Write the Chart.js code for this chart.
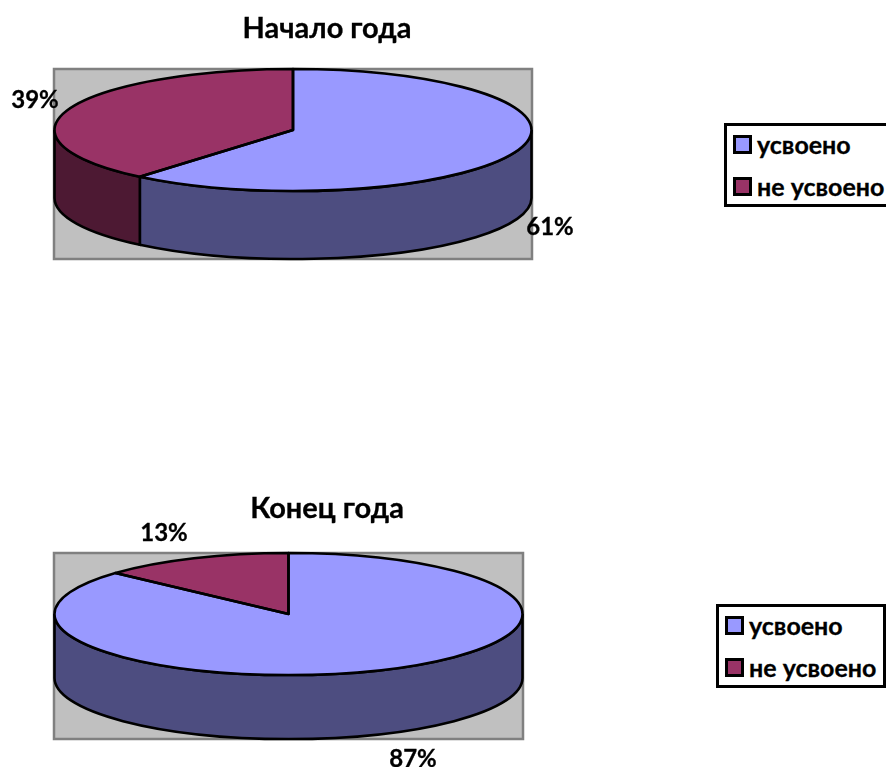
<!DOCTYPE html>
<html lang="ru">
<head>
<meta charset="utf-8">
<title>Начало и конец года</title>
<script src="https://cdn.jsdelivr.net/npm/chart.js@4"></script>
<style>
  html, body { margin: 0; padding: 0; background: #fff; overflow: hidden; }
  body { width: 886px; height: 767px; position: relative; font-family: Lato, "Open Sans", sans-serif; font-weight: 700; color: #000; }
  canvas { position: absolute; left: 0; top: 0; }
  .title { position: absolute; font-size: 29px; line-height: 30px; transform: translateX(-50%); white-space: nowrap; -webkit-text-stroke: 0.3px #000; }
  .legend { position: absolute; box-sizing: border-box; border: 3px solid #000; background: #fff; overflow: hidden; }
  .legend div { position: absolute; font-size: 25px; line-height: 28px; white-space: nowrap; -webkit-text-stroke: 0.3px #000; }
  .legend i { position: absolute; box-sizing: border-box; width: 19px; height: 19px; border: 3px solid #000; }
</style>
</head>
<body>
<canvas id="chartStart" width="886" height="767"></canvas>
<canvas id="chartEnd" width="886" height="767"></canvas>
<script>
'use strict';

const categories = ['усвоено', 'не усвоено'];
const startValues = [61.1, 38.9];
const endValues = [86.75, 13.25];
const startTitle = 'Начало года';
const endTitle = 'Конец года';

const topColors = ['#9999FF', '#993366'];
const wallColors = ['#4D4D80', '#4D1933'];

const LINE_WIDTH = 2.6;

// ── 3D look: squash the library's round pie and add the side wall ────────────
const pie3d = {
  id: 'pie3d',
  beforeDatasetsDraw(chart, args, opts) {
    const ctx = chart.ctx;
    const [l, t, r, b] = opts.box;
    ctx.save();
    ctx.fillStyle = '#C0C0C0';
    ctx.strokeStyle = '#808080';
    ctx.lineWidth = 2.5;
    ctx.fillRect(l, t, r - l, b - t);
    ctx.strokeRect(l, t, r - l, b - t);

    // side wall, only the part of each slice that faces the viewer
    ctx.lineWidth = LINE_WIDTH;
    ctx.strokeStyle = '#000';
    chart.getDatasetMeta(0).data.forEach((arc, i) => {
      const from = Math.max(arc.startAngle, 0), to = Math.min(arc.endAngle, Math.PI);
      if (to <= from) return;
      ctx.beginPath();
      ctx.ellipse(opts.cx, opts.cy, opts.rx, opts.ry, 0, from, to);
      ctx.ellipse(opts.cx, opts.cy + opts.depth, opts.rx, opts.ry, 0, to, from, true);
      ctx.closePath();
      ctx.fillStyle = wallColors[i];
      ctx.fill();
      ctx.stroke();
    });
    ctx.restore();
  },
  beforeDatasetDraw(chart, args, opts) {
    const ctx = chart.ctx;
    const arc = chart.getDatasetMeta(0).data[0];
    ctx.save();
    ctx.translate(opts.cx, opts.cy);
    ctx.scale(opts.rx / arc.outerRadius, opts.ry / arc.outerRadius);
    ctx.translate(-arc.x, -arc.y);
  },
  afterDatasetDraw(chart) {
    chart.ctx.restore();
  },
  afterDatasetsDraw(chart, args, opts) {
    const ctx = chart.ctx;
    ctx.save();
    ctx.lineWidth = LINE_WIDTH;
    ctx.strokeStyle = '#000';
    ctx.lineJoin = 'round';
    chart.getDatasetMeta(0).data.forEach(arc => {
      ctx.beginPath();
      ctx.moveTo(opts.cx, opts.cy);
      ctx.ellipse(opts.cx, opts.cy, opts.rx, opts.ry, 0, arc.startAngle, arc.endAngle);
      ctx.closePath();
      ctx.stroke();
    });
    ctx.font = '700 24px Lato, "Open Sans", sans-serif';
    ctx.textAlign = 'center';
    ctx.textBaseline = 'middle';
    ctx.fillStyle = '#000';
    ctx.strokeStyle = '#000';
    ctx.lineWidth = 0.3;
    chart.data.datasets[0].data.forEach((v, i) => {
      const text = Math.round(v) + '%';
      ctx.fillText(text, opts.labels[i][0], opts.labels[i][1]);
      ctx.strokeText(text, opts.labels[i][0], opts.labels[i][1]);
    });
    ctx.restore();
  },
};

function makePie(id, values, geometry) {
  return new Chart(document.getElementById(id), {
    type: 'pie',
    data: {
      labels: categories,
      datasets: [{ data: values, backgroundColor: topColors, borderWidth: 0, clip: false }],
    },
    options: {
      responsive: false,
      animation: false,
      plugins: { legend: { display: false }, tooltip: { enabled: false }, pie3d: geometry },
    },
    plugins: [pie3d],
  });
}

makePie('chartStart', startValues, {
  cx: 293, cy: 130, rx: 238.5, ry: 61, depth: 68,
  box: [54, 69, 532, 259],
  labels: [[550, 227], [35, 100]],
});
makePie('chartEnd', endValues, {
  cx: 288.5, cy: 614, rx: 234, ry: 61, depth: 64,
  box: [54, 553, 523, 739],
  labels: [[413, 759], [164, 533]],
});

// ── Titles and legends ───────────────────────────────────────────────────────
function addTitle(text, x, y) {
  const el = document.createElement('div');
  el.className = 'title';
  el.style.left = x + 'px';
  el.style.top = y + 'px';
  el.textContent = text;
  document.body.appendChild(el);
}

function addLegend(left, top, width, height) {
  const box = document.createElement('div');
  box.className = 'legend';
  box.style.cssText = `left:${left}px;top:${top}px;width:${width}px;height:${height}px`;
  categories.forEach((name, i) => {
    const rowY = 9 + i * 42;
    const swatch = document.createElement('i');
    swatch.style.cssText = `left:6px;top:${rowY}px;background:${topColors[i]}`;
    const label = document.createElement('div');
    label.style.cssText = `left:30px;top:${rowY - 5}px`;
    label.textContent = name;
    box.append(swatch, label);
  });
  document.body.appendChild(box);
}

addTitle(startTitle, 327, 12);
addTitle(endTitle, 327, 492);
addLegend(724, 123, 170, 84);
addLegend(716, 604, 170, 84);
</script>
</body>
</html>
